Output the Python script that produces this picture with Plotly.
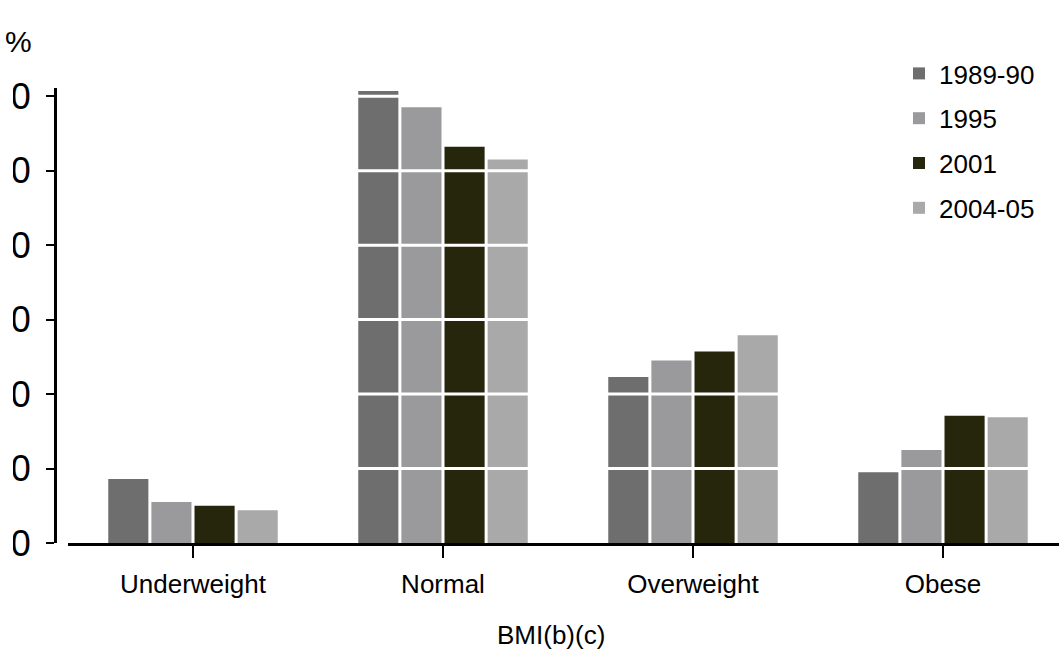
import plotly.graph_objects as go

# BMI categories and survey years
categories = ["Underweight", "Normal", "Overweight", "Obese"]
years = ["1989-90", "1995", "2001", "2004-05"]

# Share of persons (%) in each BMI category, per survey year
pct_1989 = [8.6, 60.7, 22.3, 9.5]
pct_1995 = [5.5, 58.5, 24.5, 12.5]
pct_2001 = [5.0, 53.2, 25.7, 17.1]
pct_2004 = [4.4, 51.5, 27.9, 16.9]

y_ticks = [0, 10, 20, 30, 40, 50, 60]

series = [pct_1989, pct_1995, pct_2001, pct_2004]
colors = ["#6e6e6e", "#9a9a9c", "#26260c", "#a9a9a9"]

W, H = 1059, 658
L, T, B = 68, 88, 115          # plot-area offsets in pixels
PH = H - T - B                  # plot-area height
FONT = "Liberation Sans, Arial, sans-serif"

fig = go.Figure()
for name, vals, col in zip(years, series, colors):
    fig.add_trace(go.Bar(
        x=categories, y=vals, name=name, legendgroup=name,
        marker=dict(color=col, line=dict(width=0)),
    ))

# white gridlines drawn over the bars
for v in y_ticks[1:]:
    fig.add_shape(type="line", xref="x domain", yref="y",
                  x0=0, x1=1, y0=v, y1=v,
                  line=dict(color="white", width=3), layer="above")

# white strip along the left edge
fig.add_shape(type="rect", xref="paper", yref="paper",
              x0=0, x1=13 / W, y0=-0.3, y1=1.3,
              fillcolor="white", line=dict(width=0), layer="above")

fig.update_layout(
    template="none",
    width=W, height=H,
    margin=dict(l=0, r=0, t=T, b=B, autoexpand=False),
    paper_bgcolor="white", plot_bgcolor="white",
    barmode="group", bargap=0.31, bargroupgap=0.07,
    font=dict(family=FONT, size=26, color="black"),
    showlegend=True,
    legend=dict(
        x=899 / W, y=1 + (T - 50) / PH, xanchor="left", yanchor="top",
        bgcolor="rgba(0,0,0,0)", borderwidth=0,
        font=dict(family=FONT, size=26, color="black"),
        traceorder="grouped", tracegroupgap=8,
    ),
    xaxis=dict(
        domain=[L / W, 1],
        range=[-0.5, 3.464],
        showline=True, linecolor="black", linewidth=3,
        ticks="outside", ticklen=12, tickwidth=2, tickcolor="black",
        showgrid=False, zeroline=False, automargin=False,
        ticklabelstandoff=4,
        tickfont=dict(family=FONT, size=26, color="black"),
    ),
    # value axis sits slightly left of where the category axis begins
    yaxis=dict(
        anchor="free", position=55 / W,
        range=[0, 61.1],
        tickvals=y_ticks,
        showline=True, linecolor="black", linewidth=3,
        ticks="outside", ticklen=8, tickwidth=2, tickcolor="black",
        showgrid=False, zeroline=False, automargin=False,
        ticklabelstandoff=8,
        tickfont=dict(family=FONT, size=36, color="black"),
    ),
    annotations=[
        dict(text="%", xref="paper", yref="paper",
             x=34 / W, y=1 + 46 / PH, xanchor="right", yanchor="middle",
             showarrow=False, font=dict(family=FONT, size=30, color="black")),
        dict(text="BMI(b)(c)", xref="paper", yref="paper",
             x=551 / W, y=-92 / PH, xanchor="center", yanchor="middle",
             showarrow=False, font=dict(family=FONT, size=26, color="black")),
    ],
)

fig.write_html("out.html")
